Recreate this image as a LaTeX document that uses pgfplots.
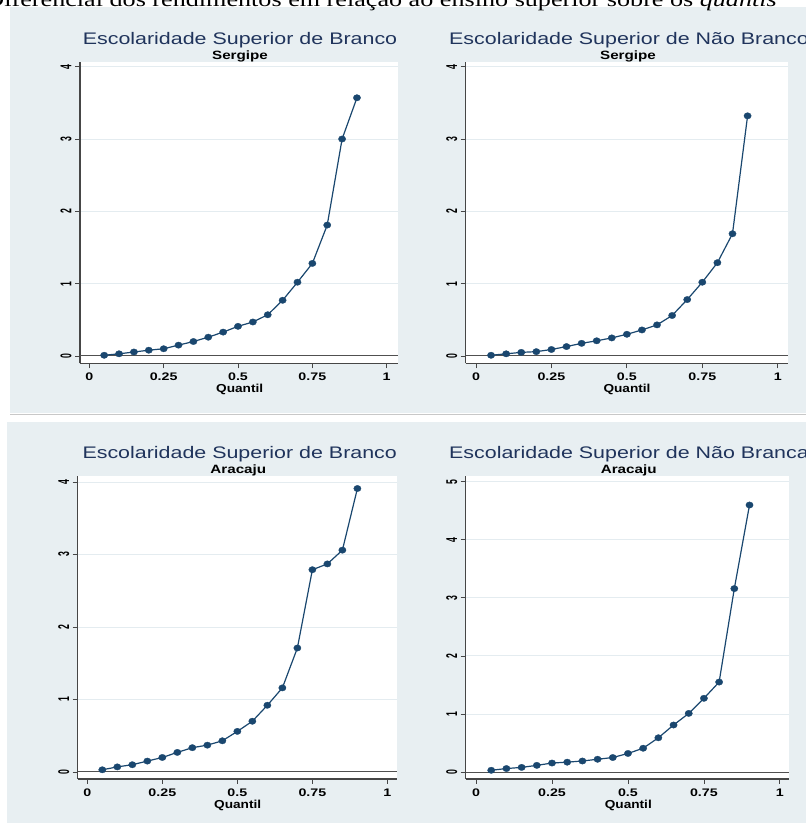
\documentclass[border=0pt]{standalone}
\usepackage{graphicx}
\usepackage{fontspec}
\setmainfont{Liberation Sans}
\newfontfamily\serif{Liberation Serif}
\usepackage{pgfplots}
\pgfplotsset{compat=1.18}
\usepackage{pgfplotstable}

\definecolor{bgc}{RGB}{232,239,242}
\definecolor{gridc}{RGB}{228,236,240}
\definecolor{zeroc}{RGB}{80,80,80}
\definecolor{axc}{RGB}{70,70,70}
\definecolor{navy}{RGB}{26,71,111}
\definecolor{titc}{RGB}{32,52,92}
\definecolor{sepc}{RGB}{200,200,200}

\newcommand{\hs}[2][1.28]{\scalebox{#1}[1]{#2}}

\pgfplotstableread{
q v
0.05 0.01
0.10 0.03
0.15 0.055
0.20 0.08
0.25 0.10
0.30 0.15
0.35 0.20
0.40 0.26
0.45 0.33
0.50 0.41
0.55 0.47
0.60 0.57
0.65 0.77
0.70 1.02
0.75 1.28
0.80 1.81
0.85 3.00
0.90 3.57
}\sergB
\pgfplotstableread{
q v
0.05 0.01
0.10 0.03
0.15 0.05
0.20 0.06
0.25 0.09
0.30 0.13
0.35 0.175
0.40 0.21
0.45 0.25
0.50 0.30
0.55 0.36
0.60 0.43
0.65 0.56
0.70 0.78
0.75 1.02
0.80 1.29
0.85 1.69
0.90 3.32
}\sergN
\pgfplotstableread{
q v
0.05 0.03
0.10 0.07
0.15 0.10
0.20 0.15
0.25 0.20
0.30 0.27
0.35 0.335
0.40 0.37
0.45 0.43
0.50 0.56
0.55 0.70
0.60 0.92
0.65 1.16
0.70 1.71
0.75 2.79
0.80 2.87
0.85 3.06
0.90 3.91
}\araB
\pgfplotstableread{
q v
0.05 0.03
0.10 0.06
0.15 0.08
0.20 0.115
0.25 0.155
0.30 0.17
0.35 0.19
0.40 0.22
0.45 0.25
0.50 0.32
0.55 0.41
0.60 0.59
0.65 0.81
0.70 1.01
0.75 1.27
0.80 1.55
0.85 3.16
0.90 4.60
}\araN

\pgfplotsset{
  stata/.style={
    scale only axis,
    anchor=south west,
    axis background/.style={fill=white},
    axis x line*=bottom,
    axis y line*=left,
    axis line style={draw=axc, line width=1.1bp, -},
    tick align=outside,
    major tick length=5bp,
    tick style={draw=axc, line width=0.8bp},
    xtick={0,0.25,0.5,0.75,1},
    xticklabels={\hs[1.3]{0},\hs[1.3]{0.25},\hs[1.3]{0.5},\hs[1.3]{0.75},\hs[1.3]{1}},
    xticklabel style={font=\bfseries\fontsize{11}{11}\selectfont, text=black, yshift=-1.5bp},
    yticklabel={\scalebox{1}[1.8]{\pgfmathprintnumber[assume math mode=true]{\tick}}},
    yticklabel style={rotate=90, anchor=south, font=\bfseries\fontsize{8.7}{9}\selectfont, text=black},
    ymajorgrids,
    major grid style={draw=gridc, line width=0.9bp},
    extra y ticks={0},
    extra y tick style={major grid style={draw=zeroc, line width=1bp}},
  },
  sp/.style={draw=navy, line width=1.2bp, mark=*, mark size=3.2bp,
      mark options={fill=navy, draw=navy, xscale=1.15, line width=0.3bp, solid}},
}

\begin{document}
\begin{tikzpicture}[x=1bp,y=1bp]
\useasboundingbox (0,0) rectangle (806,823);
% panel backgrounds
\fill[bgc] (10,409.7) rectangle (806,815.7);
\draw[sepc, line width=1bp] (10,408.7) -- (806,408.7);
\fill[bgc] (6.7,0) rectangle (806,401.3);
% caption (cut off at the top)
\begin{scope}
\clip (0,805) rectangle (806,823);
\node[anchor=base east, inner sep=0] at (777,816.5)
  {\hs{\serif\fontsize{20.5}{22}\selectfont Diferencial dos rendimentos em relação ao ensino superior sobre os \textit{quantis}}};
\end{scope}

% ---------- Panel 1 ----------
\begin{axis}[stata, at={(80bp,459.7bp)}, width=317.7bp, height=301.6bp,
  xmin=-0.0313, xmax=1.037, ymin=-0.101, ymax=4.069, ytick={1,2,3,4}]
\addplot[sp] table[x=q, y=v] {\sergB};
\end{axis}
% ---------- Panel 2 ----------
\begin{axis}[stata, at={(465.7bp,459.7bp)}, width=322bp, height=301.6bp,
  xmin=-0.034, xmax=1.033, ymin=-0.101, ymax=4.069, ytick={1,2,3,4}]
\addplot[sp] table[x=q, y=v] {\sergN};
\end{axis}
% ---------- Panel 3 ----------
\begin{axis}[stata, at={(77.7bp,44bp)}, width=319.6bp, height=303bp,
  xmin=-0.032, xmax=1.033, ymin=-0.097, ymax=4.083, ytick={1,2,3,4}]
\addplot[sp] table[x=q, y=v] {\araB};
\end{axis}
% ---------- Panel 4 ----------
\begin{axis}[stata, at={(465.7bp,44bp)}, width=323.6bp, height=303bp,
  xmin=-0.034, xmax=1.031, ymin=-0.12, ymax=5.10, ytick={1,2,3,4,5}]
\addplot[sp] table[x=q, y=v] {\araN};
\end{axis}

% titles
\tikzset{ttl/.style={anchor=base, inner sep=0, text=titc, font=\fontsize{16.8}{18}\selectfont},
         sub/.style={anchor=base, inner sep=0, text=black, font=\bfseries\fontsize{12.1}{13}\selectfont},
         xl/.style={anchor=base, inner sep=0, text=black, font=\bfseries\fontsize{11.6}{12}\selectfont}}
\node[ttl] at (240,778.7) {\hs{Escolaridade Superior de Branco}};
\node[sub] at (240,763.7) {\hs[1.26]{Sergipe}};
\node[xl] at (239.7,430.3) {\hs[1.18]{Quantil}};

\node[ttl] at (629,778.7) {\hs{Escolaridade Superior de Não Branco}};
\node[sub] at (628,763.7) {\hs[1.26]{Sergipe}};
\node[xl] at (627,430.3) {\hs[1.18]{Quantil}};

\node[ttl] at (239.7,364) {\hs{Escolaridade Superior de Branco}};
\node[sub] at (238.3,349.7) {\hs[1.26]{Aracaju}};
\node[xl] at (237.7,14.7) {\hs[1.18]{Quantil}};

\node[ttl] at (629,364) {\hs{Escolaridade Superior de Não Branca}};
\node[sub] at (628.7,349.7) {\hs[1.26]{Aracaju}};
\node[xl] at (628.3,14.7) {\hs[1.18]{Quantil}};
\end{tikzpicture}
\end{document}
